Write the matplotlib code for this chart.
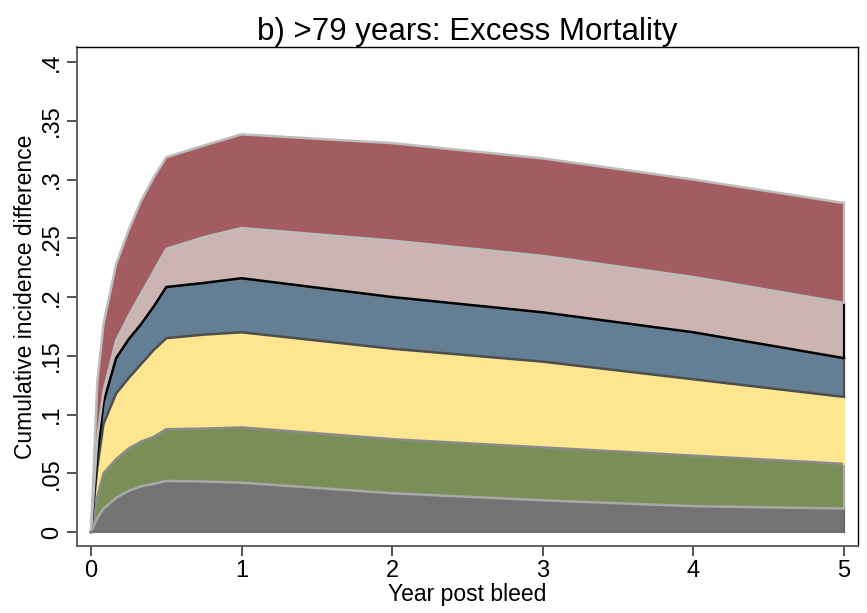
import matplotlib
matplotlib.use("Agg")
import matplotlib.pyplot as plt
import numpy as np

plt.rcParams['font.family'] = ['Liberation Sans', 'DejaVu Sans']

# time since bleed (years)
years = [0, 0.042, 0.083, 0.167, 0.25, 0.333, 0.417, 0.5, 0.75, 1, 2, 3, 4, 5]

# cumulative (stacked) upper bounds of each band
upper_1 = [0, 0.012, 0.020, 0.029, 0.035, 0.039, 0.041, 0.0435, 0.043, 0.042, 0.033, 0.027, 0.022, 0.020]
upper_2 = [0, 0.030, 0.050, 0.062, 0.071, 0.077, 0.081, 0.0875, 0.088, 0.089, 0.079, 0.072, 0.065, 0.058]
upper_3 = [0, 0.055, 0.092, 0.118, 0.131, 0.143, 0.155, 0.165, 0.168, 0.170, 0.156, 0.145, 0.130, 0.115]
upper_4 = [0, 0.065, 0.110, 0.148, 0.164, 0.177, 0.192, 0.2085, 0.212, 0.216, 0.200, 0.187, 0.170, 0.148]
upper_5 = [0, 0.080, 0.120, 0.163, 0.184, 0.203, 0.222, 0.241, 0.251, 0.2587, 0.248, 0.235, 0.217, 0.195]
upper_6 = [0, 0.128, 0.177, 0.228, 0.257, 0.282, 0.302, 0.319, 0.329, 0.3385, 0.331, 0.318, 0.300, 0.280]

x_ticks = [0, 1, 2, 3, 4, 5]
y_ticks = [0, 0.05, 0.1, 0.15, 0.2, 0.25, 0.3, 0.35, 0.4]
y_tick_labels = ['0', '.05', '.1', '.15', '.2', '.25', '.3', '.35', '.4']

fill_colors = ['#737373', '#7a8f57', '#fde68f', '#647f94', '#cbb4b1', '#a35d61']
line_colors = ['#a8a8a8', '#8a8a8a', '#4d4d4d', '#000000', '#bdbdbd', '#bdbdbd']

t = np.array(years)
bounds = [np.zeros_like(t)] + [np.array(u) for u in
                                [upper_1, upper_2, upper_3, upper_4, upper_5, upper_6]]

fig = plt.figure(figsize=(8.67, 6.13), dpi=100)
ax = fig.add_axes([0.0888, 0.1093, 0.9008, 0.814])

for i in range(6):
    ax.fill_between(t, bounds[i], bounds[i + 1], color=fill_colors[i],
                    linewidth=0, zorder=2)

# boundary lines, lower ones first
for i in range(6):
    ax.plot(t, bounds[i + 1], color=line_colors[i], lw=1.8, zorder=3,
            solid_joinstyle='round')

# right-hand edges at the last time point
edge_colors = ['#6a6a6a', '#a8a8a8', '#fde68f', '#4d4d4d', '#000000', '#bdbdbd']
for i in range(6):
    ax.plot([t[-1], t[-1]], [bounds[i][-1], bounds[i + 1][-1]],
            color=edge_colors[i], lw=1.6, zorder=3)
ax.plot(t, bounds[0], color='#6a6a6a', lw=1.2, zorder=3)

ax.set_xlim(-0.093, 5.093)
ax.set_ylim(-0.0119, 0.4128)

ax.set_xticks(x_ticks)
ax.set_xticklabels([str(v) for v in x_ticks])
ax.set_yticks(y_ticks)
ax.set_yticklabels(y_tick_labels, rotation=90, va='center')
ax.tick_params(axis='both', direction='out', length=7, width=1.2,
               color='#333333', labelsize=17, pad=3)

for side in ['left', 'bottom']:
    ax.spines[side].set_color('#606060')
    ax.spines[side].set_linewidth(1.4)
for side in ['top', 'right']:
    ax.spines[side].set_color('black')
    ax.spines[side].set_linewidth(1.0)

ax.set_title('b) >79 years: Excess Mortality', fontsize=22.5, pad=5)
ax.set_xlabel('Year post bleed', fontsize=16.5, labelpad=0.5)
ax.set_ylabel('Cumulative incidence difference', fontsize=16.5, labelpad=3)

fig.savefig('out.png', dpi=100)
